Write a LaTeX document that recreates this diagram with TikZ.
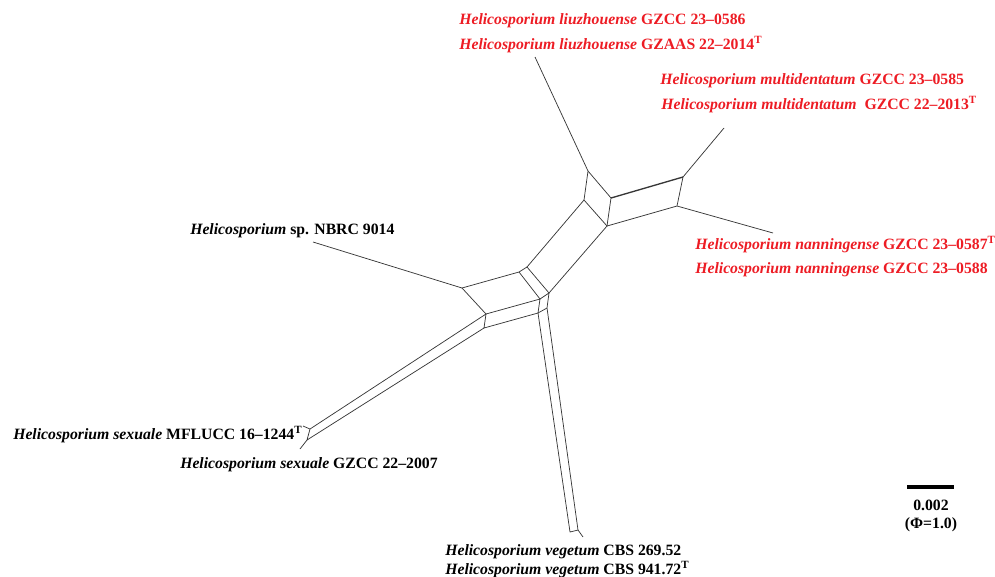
\documentclass[tikz,border=0pt]{standalone}
\usepackage{fontspec}
\setmainfont{Liberation Serif}
\usepackage{xcolor}
\usepackage{tikz}
\usetikzlibrary{positioning}
\definecolor{taxonred}{RGB}{237,28,36}
\definecolor{splitgray}{RGB}{55,55,55}
\tikzset{
    split/.style={
        draw=splitgray,
        line width=0.55pt,
        line join=round
    },
    heavysplit/.style={
        split,
        line width=1pt
    },
    taxon/.style={
        inner sep=0pt,
        anchor=base west,
        font=\fontsize{11.8}{14}\selectfont\bfseries
    },
    redtaxon/.style={
        taxon,
        text=taxonred
    },
    scalebar/.style={
        draw=black,
        line width=3.6pt
    },
    scalelabel/.style={
        inner sep=0pt,
        font=\fontsize{11.8}{14}\selectfont\bfseries
    }
}
\newcommand{\genus}[1]{\textit{#1}}

\begin{document}
\begin{tikzpicture}[x=0.75pt, y=-0.75pt]
\useasboundingbox (0,0) rectangle (995,576);

% Split vertices
\coordinate (a) at (462,288);
\coordinate (b) at (519,272);
\coordinate (c) at (527,267);
\coordinate (d) at (549,293);
\coordinate (e) at (540,299);
\coordinate (f) at (486,314);
\coordinate (g) at (484,328);
\coordinate (h) at (538,313);
\coordinate (i) at (547,308);
\coordinate (j) at (584,200);
\coordinate (k) at (607,226);
\coordinate (l) at (588,171);
\coordinate (m) at (611,198);
\coordinate (n) at (683,177);
\coordinate (o) at (677,206);
\coordinate (s1) at (310,429);
\coordinate (s2) at (307,440);
\coordinate (v1) at (570,532);
\coordinate (v2) at (578,530);

% Leaf ends
\coordinate (liuEnd) at (535,57);
\coordinate (multiEnd) at (724,128);
\coordinate (nannEnd) at (773,233);
\coordinate (spEnd) at (313,242);
\coordinate (sexEndA) at (303,426);
\coordinate (sexEndB) at (300,449);
\coordinate (vegEnd) at (583,537);

% Splits
\draw[split] (a) -- (b) -- (c) -- (d) -- (e) -- (b);
\draw[split] (a) -- (f) -- (e) -- (h) -- (g) -- (f);
\draw[split] (d) -- (i) -- (h);
\draw[split] (c) -- (j) -- (k) -- (d);
\draw[split] (j) -- (l) -- (m) -- (k);
\draw[heavysplit] (m) -- (n);
\draw[split] (n) -- (o) -- (k);

% Long branches
\draw[split] (f) -- (s1) -- (s2) -- (g);
\draw[split] (h) -- (v1) -- (v2) -- (i);

% Leaves
\draw[split] (l) -- (liuEnd);
\draw[split] (n) -- (multiEnd);
\draw[split] (o) -- (nannEnd);
\draw[split] (a) -- (spEnd);
\draw[split] (s1) -- (sexEndA);
\draw[split] (s2) -- (sexEndB);
\draw[split] (v2) -- (vegEnd);

% Taxa
\node[redtaxon] (liuA) at (459,24) {\genus{Helicosporium liuzhouense} GZCC 23--0586};
\node[redtaxon] (liuB) at (459,49) {\genus{Helicosporium liuzhouense} GZAAS 22--2014\textsuperscript{T}};
\node[redtaxon] (multiA) at (660,84) {\genus{Helicosporium multidentatum} GZCC 23--0585};
\node[redtaxon] (multiB) at (661,109) {\genus{Helicosporium multidentatum}\hspace{0.5em}GZCC 22--2013\textsuperscript{T}};
\node[redtaxon] (nannA) at (695,249) {\genus{Helicosporium nanningense} GZCC 23--0587\textsuperscript{T}};
\node[redtaxon] (nannB) at (695,273) {\genus{Helicosporium nanningense} GZCC 23--0588};
\node[taxon] (spA) at (190,234) {\genus{Helicosporium} sp. NBRC 9014};
\node[taxon] (sexA) at (13,439) {\genus{Helicosporium sexuale} MFLUCC 16--1244\textsuperscript{T}};
\node[taxon] (sexB) at (180,468) {\genus{Helicosporium sexuale} GZCC 22--2007};
\node[taxon] (vegA) at (445,555) {\genus{Helicosporium vegetum} CBS 269.52};
\node[taxon] (vegB) at (445,574) {\genus{Helicosporium vegetum} CBS 941.72\textsuperscript{T}};

% Scale
\coordinate (barL) at (907,487);
\coordinate (barR) at (954,487);
\draw[scalebar] (barL) -- (barR);
\node[scalelabel] (scaleValue) at (931,505) {0.002};
\node[scalelabel] (scalePhi) at (931,525) {(Φ=1.0)};

\end{tikzpicture}
\end{document}
